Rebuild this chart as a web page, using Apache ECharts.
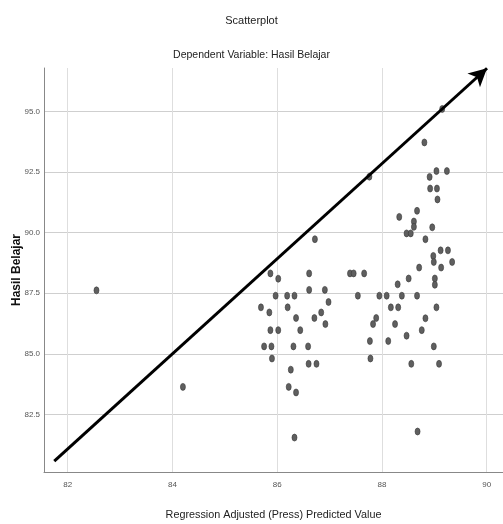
<!DOCTYPE html>
<html>
<head>
<meta charset="utf-8">
<script src="https://cdn.jsdelivr.net/npm/echarts@6/dist/echarts.min.js"></script>
<style>
html,body{margin:0;padding:0;background:#fff;}
#chart{width:503px;height:524px;}
</style>
</head>
<body>
<div id="chart"></div>
<script>
// Predicted values (x) and observed Hasil Belajar (y)
const predicted = [
  89.15, 88.81, 87.76, 88.91, 89.04, 89.24, 88.92, 89.05, 89.06, 88.67,
  88.33, 88.61, 88.61, 88.47, 88.55, 88.96, 88.83, 86.72, 89.12, 89.26,
  88.98, 88.99, 89.34, 89.13, 88.71, 88.51, 89.01, 89.01, 88.30, 85.87,
  86.02, 86.61, 87.39, 87.46, 87.66, 86.61, 86.91, 85.97, 86.19, 86.33,
  87.54, 87.95, 88.09, 88.38, 88.67, 86.98, 85.69, 86.20, 88.17, 88.31,
  89.04, 85.85, 86.84, 86.36, 86.71, 87.89, 88.83, 87.83, 86.92, 88.25,
  85.87, 86.02, 86.44, 88.76, 88.47, 87.77, 88.12, 85.75, 85.89, 86.31,
  86.59, 88.99, 85.90, 87.78, 86.60, 86.75, 88.56, 89.09, 86.26, 86.22,
  86.36, 86.33, 88.68, 82.55, 84.20
];
const hasilBelajar = [
  95.10, 93.72, 92.31, 92.30, 92.54, 92.54, 91.82, 91.82, 91.37, 90.90,
  90.65, 90.46, 90.24, 89.97, 89.97, 90.22, 89.73, 89.73, 89.27, 89.27,
  89.04, 88.79, 88.79, 88.56, 88.56, 88.11, 88.11, 87.85, 87.87, 88.32,
  88.10, 88.32, 88.32, 88.32, 88.32, 87.64, 87.64, 87.40, 87.40, 87.40,
  87.40, 87.40, 87.40, 87.40, 87.40, 87.14, 86.92, 86.92, 86.92, 86.92,
  86.92, 86.71, 86.71, 86.48, 86.48, 86.48, 86.47, 86.23, 86.23, 86.23,
  85.98, 85.98, 85.98, 85.98, 85.75, 85.53, 85.53, 85.31, 85.31, 85.31,
  85.31, 85.31, 84.81, 84.81, 84.59, 84.59, 84.59, 84.59, 84.35, 83.64,
  83.41, 81.55, 81.80, 87.62, 83.64
];
const xTicks = [82, 84, 86, 88, 90];
const yTicks = [82.5, 85.0, 87.5, 90.0, 92.5, 95.0];
const arrowStart = [81.744, 80.58];
const arrowEnd = [90.006, 96.78];

const points = predicted.map((x, i) => [x, hasilBelajar[i]]);

const chart = echarts.init(document.getElementById('chart'));
const labelFont = '"Liberation Sans", Arial, sans-serif';
chart.setOption({
  animation: false,
  backgroundColor: '#ffffff',
  title: [
    { text: 'Scatterplot', left: 'center', top: 15, padding: 0,
      textStyle: { fontFamily: labelFont, fontSize: 11, fontWeight: 'normal', color: '#222' } },
    { text: 'Dependent Variable: Hasil Belajar', left: 'center', top: 50, padding: 0,
      textStyle: { fontFamily: labelFont, fontSize: 10.5, fontWeight: 'normal', color: '#222' } }
  ],
  grid: { left: 44, right: 0, top: 68, bottom: 52, outerBoundsMode: 'none', containLabel: false },
  xAxis: {
    type: 'value', min: 81.548, max: 90.311,
    name: 'Regression Adjusted (Press) Predicted Value',
    nameLocation: 'middle', nameGap: 38, nameMoveOverlap: false,
    nameTextStyle: { fontFamily: labelFont, fontSize: 10.8, color: '#222' },
    axisLine: { show: true, onZero: false, lineStyle: { color: '#888', width: 1 } },
    axisTick: { show: false, customValues: xTicks },
    axisLabel: { customValues: xTicks, margin: 9, fontFamily: labelFont, fontSize: 8, color: '#555',
      formatter: v => String(Math.round(v)) },
    splitLine: { show: true, lineStyle: { color: '#dedede', width: 1 } }
  },
  yAxis: {
    type: 'value', min: 80.13, max: 96.79,
    name: 'Hasil Belajar',
    nameLocation: 'middle', nameGap: 21, nameRotate: 90, nameMoveOverlap: false,
    nameTextStyle: { fontFamily: labelFont, fontSize: 12, fontWeight: 'bold', color: '#111' },
    axisLine: { show: true, onZero: false, lineStyle: { color: '#888', width: 1 } },
    axisTick: { show: false, customValues: yTicks },
    axisLabel: { customValues: yTicks, margin: 4, fontFamily: labelFont, fontSize: 8, color: '#555',
      formatter: v => v.toFixed(1) },
    splitLine: { show: true, lineStyle: { color: '#cfcfcf', width: 1 } }
  },
  series: [{
    type: 'scatter',
    data: points,
    symbol: 'circle',
    symbolSize: [5, 7],
    itemStyle: { color: '#5f5f5f', borderColor: '#3a3a3a', borderWidth: 0.6, opacity: 1 },
    markLine: {
      silent: true,
      symbol: ['none', 'arrow'],
      symbolSize: [14, 18],
      label: { show: false },
      lineStyle: { color: '#000', width: 3, type: 'solid' },
      data: [[{ coord: arrowStart }, { coord: arrowEnd }]]
    }
  }]
});
</script>
</body>
</html>
